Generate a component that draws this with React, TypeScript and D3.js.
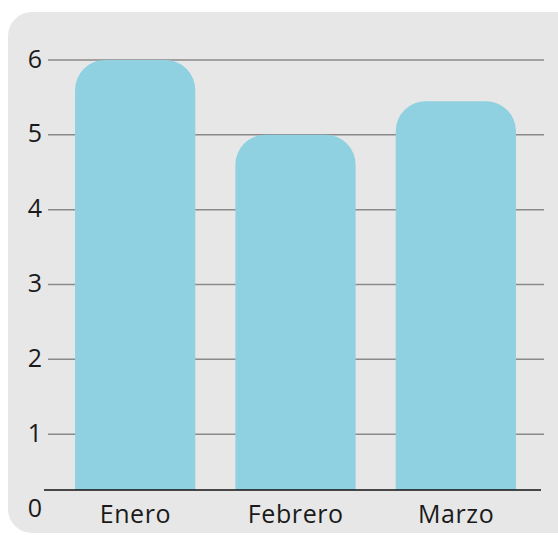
import React from "react";
import * as d3 from "d3";

const categories = ["Enero", "Febrero", "Marzo"];
const values = [6, 5, 5.45];
const yTicks = [0, 1, 2, 3, 4, 5, 6];

const W = 558;
const H = 535;

export default function App() {
  const x = d3.scaleBand<string>().domain(categories).range([55, 536]).paddingInner(0.25).paddingOuter(0.125);
  const y = d3.scaleLinear().domain([0, 6]).range([509, 60]);
  const baseline = 490;
  const r = 30;

  const barPath = (x0: number, x1: number, top: number, bottom: number) => {
    const p = d3.path();
    p.moveTo(x0, bottom);
    p.lineTo(x0, top + r);
    p.arcTo(x0, top, x0 + r, top, r);
    p.lineTo(x1 - r, top);
    p.arcTo(x1, top, x1, top + r, r);
    p.lineTo(x1, bottom);
    p.closePath();
    return p.toString();
  };

  const font = "'Open Sans', sans-serif";

  return (
    <svg
      width={W}
      height={H}
      style={{ position: "absolute", left: 0, top: 0, display: "block" }}
    >
      <rect x={8} y={12} width={W - 8 + 25} height={521} rx={24} ry={24} fill="#e7e7e7" />
      {yTicks.filter((t) => t > 0).map((t) => (
        <line key={t} x1={48} x2={544} y1={y(t)} y2={y(t)} stroke="#8a8a8a" strokeWidth={1.5} />
      ))}
      {categories.map((c, i) => {
        const x0 = x(c)!;
        return (
          <path key={c} d={barPath(x0, x0 + x.bandwidth(), y(values[i]), baseline)} fill="#8fd1e1" />
        );
      })}
      <line x1={44} x2={541} y1={baseline} y2={baseline} stroke="#111" strokeWidth={1.5} />
      {yTicks.map((t) => (
        <text
          key={t}
          x={35}
          y={y(t) - 1.5}
          dy="0.36em"
          textAnchor="middle"
          fontFamily={font}
          fontSize={25}
          fill="#1a1a1a"
        >
          {t}
        </text>
      ))}
      {categories.map((c) => (
        <text
          key={c}
          x={x(c)! + x.bandwidth() / 2 + 0.3}
          y={514}
          dy="0.36em"
          textAnchor="middle"
          fontFamily={font}
          fontSize={25}
          letterSpacing={0.6}
          fill="#1a1a1a"
        >
          {c}
        </text>
      ))}
    </svg>
  );
}
